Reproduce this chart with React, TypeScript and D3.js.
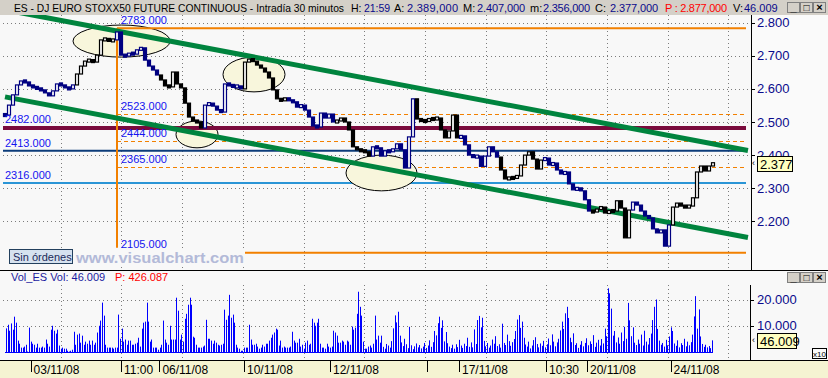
import React from "react";
import * as d3 from "d3";

// ---------- DATA ----------
// 30-minute closes, 03/11/08 .. 24/11/08
const closes: number[] = [
  2521, 2551, 2582, 2612, 2624, 2621, 2609, 2606, 2600, 2597,
  2588, 2579, 2594, 2615, 2612, 2603, 2600, 2612, 2645, 2669,
  2684, 2687, 2681, 2702, 2748, 2751, 2745, 2748, 2772, 2702,
  2699, 2708, 2705, 2718, 2724, 2687, 2669, 2657, 2642, 2627,
  2609, 2606, 2651, 2615, 2603, 2557, 2515, 2503, 2500, 2482,
  2551, 2557, 2548, 2536, 2530, 2615, 2612, 2606, 2609, 2600,
  2681, 2690, 2684, 2672, 2663, 2651, 2633, 2597, 2570, 2564,
  2573, 2564, 2561, 2545, 2551, 2536, 2515, 2488, 2485, 2527,
  2512, 2524, 2500, 2503, 2512, 2500, 2476, 2425, 2416, 2413,
  2410, 2397, 2425, 2422, 2397, 2413, 2410, 2419, 2434, 2416,
  2361, 2455, 2570, 2509, 2503, 2503, 2509, 2509, 2512, 2476,
  2452, 2473, 2521, 2452, 2458, 2431, 2400, 2394, 2397, 2366,
  2397, 2425, 2410, 2394, 2355, 2328, 2331, 2331, 2337, 2370,
  2400, 2410, 2388, 2358, 2385, 2391, 2370, 2376, 2355, 2343,
  2349, 2313, 2295, 2301, 2292, 2265, 2231, 2228, 2237, 2243,
  2225, 2231, 2231, 2262, 2240, 2150, 2234, 2258, 2249, 2231,
  2216, 2210, 2177, 2165, 2174, 2125, 2189, 2243, 2255, 2246,
  2243, 2246, 2271, 2349, 2367, 2352, 2367, 2377,
];

// colour of each stretch of bars: [first bar index, colour]
const colorRuns: [number, string][] = [
  [0, "#000080"], [18, "#000000"], [28, "#000080"], [39, "#000000"],
  [50, "#000080"], [60, "#000000"], [71, "#000080"], [83, "#000000"],
  [92, "#000080"], [103, "#000000"], [114, "#000080"], [124, "#000000"],
  [135, "#000080"], [147, "#000000"], [157, "#000080"], [167, "#000000"],
];

// volume (axis units, x10)
const volumes: number[] = [
  9200, 10600, 8300, 11100, 8700, 13700, 11400, 4500, 3300, 1800,
  1800, 2200, 2900, 300, 9500, 4100, 3300, 2900, 1800, 3300,
  1800, 1800, 2200, 1800, 4900, 3300, 2200, 8700, 10200, 8300,
  7200, 8700, 2600, 1400, 1800, 1400, 1400, 600, 300, 600,
  1000, 7900, 2900, 6800, 7200, 3700, 6400, 2900, 4100, 3300,
  4500, 2900, 4500, 2900, 3700, 7600, 10200, 12200, 19100, 14100,
  2900, 1800, 1800, 1800, 1800, 1400, 1800, 1800, 14500, 5200,
  9100, 4100, 4900, 2900, 4500, 4500, 2900, 2900, 3300, 3700,
  5600, 2200, 9100, 11400, 11800, 19100, 11800, 4100, 4900, 1800,
  1800, 1800, 1000, 1800, 2900, 12200, 4900, 3700, 2900, 10200,
  4900, 4900, 4900, 21000, 16000, 4900, 6800, 4100, 12900, 14800,
  18300, 21000, 18300, 6000, 5600, 2900, 1800, 1800, 1800, 2200,
  2600, 12500, 5200, 5200, 4500, 3300, 4500, 3700, 2900, 2600,
  2900, 3300, 16400, 12500, 14100, 22100, 13300, 14500, 11400, 2900,
  1800, 1400, 600, 600, 1800, 1800, 1800, 10600, 4900, 2900,
  2900, 3300, 2200, 1400, 1800, 2900, 2200, 3300, 3300, 4500,
  5600, 6800, 7600, 9100, 8700, 2600, 4500, 1800, 2200, 1800,
  1800, 1800, 2200, 7900, 4500, 3700, 3700, 5200, 2200, 2900,
  1400, 3700, 4500, 2900, 3300, 12900, 11400, 10200, 11400, 12900,
  3300, 1800, 1800, 1400, 3300, 2200, 1800, 2200, 8300, 7600,
  6400, 3700, 3700, 4500, 4100, 2900, 4500, 4100, 2900, 9900,
  8700, 9500, 14800, 23300, 17500, 14100, 4100, 1400, 1400, 2200,
  2600, 1800, 3300, 14100, 4900, 6400, 3700, 6400,
  2100, 1400, 3200, 2600, 1800, 4300, 9200, 14200, 11500, 15600,
  6400, 3800, 2400, 5200, 3100, 1600, 9800, 2700, 1200, 2300,
  3400, 1900, 2800, 1500, 2200, 3600, 1700, 2600, 4600, 2100,
  3900, 8200, 6500, 11200, 13700, 9400, 12300, 4200, 7800, 3500,
  2200, 1600, 2900, 1400, 3100, 2000, 4800, 2600, 1700, 3300,
  2400, 5600, 2100, 3800, 1900, 8800, 3200, 12400, 14000, 9600,
  13300, 4400, 2300, 3600, 1800, 2600, 4900, 3300, 6200, 2400,
  3100, 1800, 11000, 3600, 2800, 6800, 4300, 2500, 3900, 5100,
  8200, 12600, 14300, 9400, 11800, 5600, 3000, 2200, 4100, 1500,
  2600, 4700, 5800, 3200, 1900, 3400, 2500, 4400, 1900, 3100,
  5300, 2700, 6900, 4100, 2300, 3800, 5200, 8400, 11800, 9000,
  15000, 17500, 13200, 5600, 3900, 7300, 2800, 3500, 1700, 2900,
  4300, 2300, 3600, 5400, 2700, 4200, 3200, 6600, 2100, 3700,
  4800, 2600, 5100, 3400, 9100, 6200, 24600, 22700, 16800, 6400,
  8200, 3800, 5700, 3300, 7600, 4300, 9800, 5200, 19000, 12300,
  6200, 9600, 3700, 2800, 4900, 3300, 6800, 2600, 8300, 4100,
  3000, 5500, 7200, 12400, 17500, 20300, 9000, 4500, 2900, 3600,
  2200, 4800, 2700, 6100, 9600, 8200, 3400, 2500, 4600, 1900,
  3500, 2800, 5200, 2300, 4100, 2700, 3900, 6800, 13800, 21600,
  9100, 16500, 6100, 3200, 2100, 2900, 1900, 2400, 1600, 4600,
];

// date axis labels at bar positions (price bar index)
const dateTicks: { label: string; idx: number }[] = [
  { label: "03/11/08", idx: 6.4 },
  { label: "11:00", idx: 29 },
  { label: "06/11/08", idx: 38.6 },
  { label: "10/11/08", idx: 59.75 },
  { label: "12/11/08", idx: 81.25 },
  { label: "", idx: 105.5 },
  { label: "17/11/08", idx: 113.5 },
  { label: "10:30", idx: 135.25 },
  { label: "20/11/08", idx: 145.5 },
  { label: "24/11/08", idx: 166.4 },
];

const priceTicks = [2800, 2700, 2600, 2500, 2400, 2300, 2200];
const volTicks = [20000, 10000];

// support / resistance levels
const solidOrange = [2783, 2105];
const dashedOrange = [2523, 2444, 2365];
const maroonLevel = 2482;
const navyLevel = 2413;
const lightBlueLevel = 2316;
const pivotIdx = 28; // bar where orange study starts

// trend channel anchors: [bar index, price]
const upperChannel: [number, number][] = [[-0.5, 2840], [185.75, 2414]];
const lowerChannel: [number, number][] = [[0, 2576], [185.75, 2151]];

// highlighted zones: [idx0, idx1, priceTop, priceBottom]
const zones: [number, number, number, number][] = [
  [17, 41.25, 2793, 2696],
  [42.75, 53.25, 2503, 2422],
  [54.5, 70, 2696, 2591],
  [85.25, 103, 2400, 2292],
];

const lastPrice = 2377;
const lastVolume = 4600.9;

// ---------- SCALES ----------
const x = d3.scaleLinear().domain([0, closes.length - 1]).range([5, 713]);
const y = d3.scaleLinear().domain([2200, 2800]).range([221.3, 22.7]);
const xv = d3.scaleLinear().domain([0, volumes.length - 1]).range([6, 712]);
const yv = d3.scaleLinear().domain([0, 20000]).range([352.3, 300.3]);
const xGrid = d3.scaleLinear().domain([0, 12]).range([0, 728.4]);

const fmtAxis = (v: number) => d3.format(".3f")(v / 1000);
const fmtLevel = (v: number) => d3.format(".3f")(v);

const FONT = "'Liberation Sans', Arial, sans-serif";
const GRID = "#7c7c7c";
const ORANGE = "#f28000";

function colorAt(i: number) {
  let c = colorRuns[0][1];
  for (const [s, col] of colorRuns) if (i >= s) c = col;
  return c;
}

function WinButtons({ x0, y0 }: { x0: number; y0: number }) {
  const glyphs = ["_", "□", "×"];
  return (
    <g>
      {glyphs.map((g, k) => (
        <g key={k}>
          <rect x={x0 + k * 13 + 0.5} y={y0 + 0.5} width={12} height={10} fill="#d4d0c8" stroke="#808080" />
          <text x={x0 + k * 13 + 6.5} y={y0 + 9} fontSize={k === 1 ? 10 : 11} textAnchor="middle" fill="#000" fontWeight="bold">{g}</text>
        </g>
      ))}
    </g>
  );
}

export default function App() {
  const gridXs = d3.range(1, 13).map((k) => xGrid(k));
  const lineGen = d3.line<[number, number]>().x((d) => x(d[0])).y((d) => y(d[1]));
  const rightEnd = 746;

  const candles = closes.map((c, i) => {
    const o = i === 0 ? c : closes[i - 1];
    let top = y(Math.max(o, c));
    let bot = y(Math.min(o, c));
    if (bot - top < 3) {
      const mid = (top + bot) / 2;
      top = mid - 1.5;
      bot = mid + 1.5;
    }
    const up = c > o;
    const col = colorAt(i);
    return (
      <rect key={i} x={x(i) - 1.5} y={top} width={3} height={bot - top}
        fill={up ? "#f8f8f8" : col} stroke={col} strokeWidth={1.2} />
    );
  });

  return (
    <svg width={828} height={378} style={{ position: "absolute", left: 0, top: 0, display: "block" }} fontFamily={FONT}>
      <defs>
        <clipPath id="mainClip"><rect x={0} y={15} width={751} height={255} /></clipPath>
      </defs>
      <rect x={0} y={0} width={828} height={378} fill="#f8f8f8" />

      {/* ---------- MAIN PANEL ---------- */}
      <g clipPath="url(#mainClip)">
        {priceTicks.map((p) => (
          <line key={p} x1={3} x2={749} y1={Math.round(y(p)) + 0.5} y2={Math.round(y(p)) + 0.5} stroke={GRID} strokeDasharray="1,3" />
        ))}
        {gridXs.map((gx, k) => (
          <line key={k} x1={Math.round(gx) + 0.5} x2={Math.round(gx) + 0.5} y1={15} y2={270} stroke={GRID} strokeDasharray="1,3" />
        ))}

        <line x1={3} x2={rightEnd} y1={y(lightBlueLevel)} y2={y(lightBlueLevel)} stroke="#2a95d6" strokeWidth={2} />
        {dashedOrange.map((p) => (
          <line key={p} x1={x(pivotIdx)} x2={rightEnd} y1={Math.round(y(p)) + 0.5} y2={Math.round(y(p)) + 0.5} stroke={ORANGE} strokeDasharray="4,3" />
        ))}

        {zones.map(([i0, i1, pt, pb], k) => (
          <ellipse key={k} cx={(x(i0) + x(i1)) / 2} cy={(y(pt) + y(pb)) / 2}
            rx={(x(i1) - x(i0)) / 2} ry={(y(pb) - y(pt)) / 2}
            fill="#f8f6dc" stroke="#000" strokeWidth={1} />
        ))}

        <line x1={3} x2={rightEnd} y1={y(maroonLevel)} y2={y(maroonLevel)} stroke="#7a0a3c" strokeWidth={4} />
        <line x1={3} x2={rightEnd} y1={y(navyLevel)} y2={y(navyLevel)} stroke="#0c3c7a" strokeWidth={2} />
        {solidOrange.map((p) => (
          <line key={p} x1={x(pivotIdx)} x2={rightEnd} y1={y(p)} y2={y(p)} stroke={ORANGE} strokeWidth={2} />
        ))}
        <line x1={x(pivotIdx)} x2={x(pivotIdx)} y1={y(solidOrange[0])} y2={y(solidOrange[1]) - 5} stroke={ORANGE} strokeWidth={2} />

        <path d={lineGen(upperChannel) || ""} stroke="#00843e" strokeWidth={5} fill="none" />
        <path d={lineGen(lowerChannel) || ""} stroke="#00843e" strokeWidth={5} fill="none" />

        <g>{candles}</g>

        <g fontSize={11} fill="#1414f0">
          {[...solidOrange, ...dashedOrange].map((p) => (
            <text key={p} x={x(pivotIdx) + 4} y={y(p) - (p === 2105 ? 5 : 4)}>{fmtLevel(p)}</text>
          ))}
          <text x={5} y={y(maroonLevel) - 5}>{fmtLevel(maroonLevel)}</text>
          <text x={5} y={y(navyLevel) - 4}>{fmtLevel(navyLevel)}</text>
          <text x={5} y={y(lightBlueLevel) - 4}>{fmtLevel(lightBlueLevel)}</text>
        </g>

        <rect x={75} y={250} width={170} height={14} fill="#f8f8f8" />
        <text x={76} y={262.5} fontSize={15} fontWeight="bold" fill="#b3bad8" textLength={168} lengthAdjust="spacingAndGlyphs">www.visualchart.com</text>
        <rect x={9.5} y={249.5} width={63} height={14} fill="#d6e2ef" stroke="#23405e" />
        <text x={13} y={260.5} fontSize={11} fill="#1a2a5a">Sin órdenes</text>
      </g>

      {/* right axis */}
      <rect x={751} y={15} width={77} height={255} fill="#fafafa" />
      <line x1={751.5} x2={751.5} y1={15} y2={270} stroke="#000" />
      {priceTicks.map((p) => (
        <g key={p}>
          <line x1={751} x2={755} y1={Math.round(y(p)) + 0.5} y2={Math.round(y(p)) + 0.5} stroke="#000" />
          <text x={757} y={y(p) + 4.5} fontSize={13} fill="#0a0a8c">{fmtAxis(p)}</text>
        </g>
      ))}
      <text x={752} y={y(lastPrice) + 3} fontSize={9} fill="#000">‹</text>
      <rect x={757.5} y={Math.round(y(lastPrice)) - 6.5} width={35} height={15} fill="#ffffc0" stroke="#000" />
      <text x={760} y={y(lastPrice) + 6} fontSize={13} fill="#000">{fmtAxis(lastPrice)}</text>

      {/* header */}
      <rect x={0} y={0} width={828} height={15} fill="#d4d0c8" />
      <g fontSize={11}>
        <text x={14} y={11.5} fill="#000" fontSize={10.2} textLength={330} lengthAdjust="spacingAndGlyphs">ES - DJ EURO STOXX50 FUTURE CONTINUOUS - Intradía 30 minutos</text>
        <text x={351} y={11.5} fill="#000" fontSize={10.5}>H:</text>
        <text x={364} y={11.5} fill="#0a0a8c" fontSize={10.5} textLength={26}>21:59</text>
        <text x={394} y={11.5} fill="#000">A:</text>
        <text x={407} y={11.5} fill="#0a0a8c" textLength={51}>2.389,000</text>
        <text x={463} y={11.5} fill="#000">M:</text>
        <text x={477} y={11.5} fill="#0a0a8c" textLength={48}>2.407,000</text>
        <text x={530} y={11.5} fill="#000">m:</text>
        <text x={543} y={11.5} fill="#0a0a8c" textLength={47}>2.356,000</text>
        <text x={595} y={11.5} fill="#000">C:</text>
        <text x={610} y={11.5} fill="#0a0a8c" textLength={48}>2.377,000</text>
        <text x={665} y={11.5} fill="#ff0000" textLength={62}>P : 2.877,000</text>
        <text x={733} y={11.5} fill="#000">V:</text>
        <text x={744} y={11.5} fill="#0a0a8c">46.009</text>
      </g>
      <WinButtons x0={787} y0={2} />

      <line x1={0} x2={828} y1={270.5} y2={270.5} stroke="#000" />

      {/* ---------- VOLUME PANEL ---------- */}
      {volTicks.map((v) => (
        <line key={v} x1={3} x2={749} y1={Math.round(yv(v)) + 0.5} y2={Math.round(yv(v)) + 0.5} stroke={GRID} strokeDasharray="1,3" />
      ))}
      {gridXs.map((gx, k) => (
        <line key={k} x1={Math.round(gx) + 0.5} x2={Math.round(gx) + 0.5} y1={285} y2={360} stroke={GRID} strokeDasharray="1,3" />
      ))}
      <g>
        {volumes.map((v, i) => (
          <line key={i} x1={Math.round(xv(i)) + 0.5} x2={Math.round(xv(i)) + 0.5} y1={yv(0)} y2={yv(v)} stroke="#0000ff" strokeWidth={1} />
        ))}
      </g>
      <line x1={5} x2={713} y1={Math.round(yv(0)) + 0.5} y2={Math.round(yv(0)) + 0.5} stroke="#0000ff" />
      <g fontSize={11}>
        <text x={11} y={281} fill="#1a1aa0">Vol_ES  Vol: 46.009</text>
        <text x={115} y={281} fill="#ff0000">P: 426.087</text>
      </g>
      <WinButtons x0={787} y0={272} />
      <line x1={750.5} x2={750.5} y1={285} y2={360} stroke="#000" />
      {volTicks.map((v) => (
        <g key={v}>
          <line x1={750} x2={754} y1={Math.round(yv(v)) + 0.5} y2={Math.round(yv(v)) + 0.5} stroke="#000" />
          <text x={757} y={yv(v) + 4} fontSize={13} fill="#0a0a8c">{d3.format(".3f")(v / 1000)}</text>
        </g>
      ))}
      <text x={752} y={yv(lastVolume) + 3} fontSize={9} fill="#000">‹</text>
      <rect x={757.5} y={Math.round(yv(lastVolume)) - 6.5} width={39} height={15} fill="#ffffc0" stroke="#000" />
      <text x={760} y={yv(lastVolume) + 6} fontSize={13} fill="#000">{d3.format(".3f")(46009 / 1000)}</text>
      <rect x={812.5} y={348.5} width={14} height={10} fill="#fafafa" stroke="#000" />
      <text x={819.5} y={356.5} fontSize={8} textAnchor="middle" fill="#000">x10</text>

      {/* ---------- DATE AXIS ---------- */}
      <line x1={0} x2={828} y1={360.5} y2={360.5} stroke="#000" />
      <rect x={0} y={361} width={828} height={17} fill="#f5f4d2" />
      {dateTicks.map((t, k) => (
        <g key={k}>
          <line x1={Math.round(x(t.idx)) + 0.5} x2={Math.round(x(t.idx)) + 0.5} y1={361} y2={372} stroke="#000" />
          <text x={x(t.idx) + 3} y={374} fontSize={12} fill="#000">{t.label}</text>
        </g>
      ))}
    </svg>
  );
}
